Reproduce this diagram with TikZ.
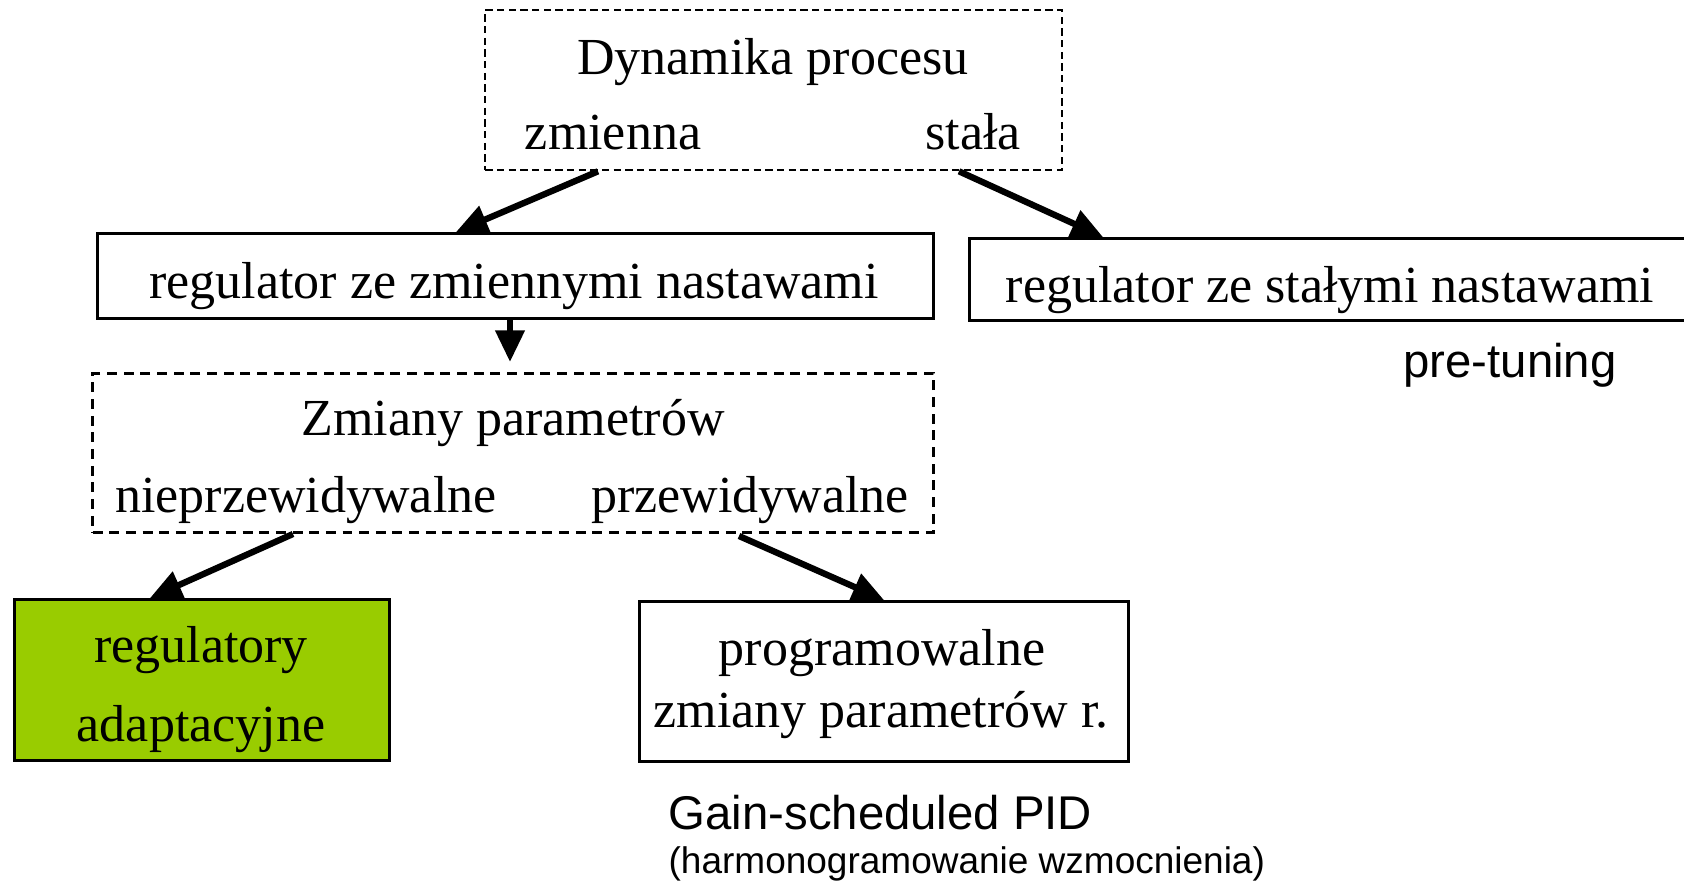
\documentclass[tikz,border=0pt]{standalone}
\usepackage{fontspec}
\setmainfont{Liberation Serif}
\setsansfont{Liberation Sans}
\usetikzlibrary{arrows.meta,calc}
\definecolor{grn}{HTML}{99CC00}
\tikzset{
  box/.style={draw, line width=1pt, inner sep=0pt, anchor=north west},
  dbox/.style={draw, line width=0.7pt, dash pattern=on 2.2pt off 1.3pt, inner sep=0pt, anchor=north west},
  lbl/.style={font=\fontsize{15.6}{18}\selectfont, inner sep=0pt, anchor=base},
  slbl/.style={font=\sffamily\fontsize{14.2}{17}\selectfont, inner sep=0pt, anchor=base},
  arr/.style={line width=1.9pt, -{Triangle[length=9.5pt,width=8.5pt]}},
}
\begin{document}
\begin{tikzpicture}[x=0.3pt,y=-0.3pt]
\useasboundingbox (0,0) rectangle (1684,884);
\clip (0,0) rectangle (1684,884);
% boxes
\node[dbox, minimum width=577*0.3pt, minimum height=160*0.3pt] (top) at (484,9) {};
\node[box, minimum width=836*0.3pt, minimum height=85*0.3pt] (ra) at (96,232) {};
\node[box, minimum width=760*0.3pt, minimum height=82*0.3pt] (rb) at (968,237) {};
\node[dbox, line width=0.9pt, dash pattern=on 3pt off 2pt, minimum width=841*0.3pt, minimum height=159*0.3pt] (zm) at (91,372) {};
\node[box, fill=grn, minimum width=375*0.3pt, minimum height=161*0.3pt] (ad) at (13,598) {};
\node[box, minimum width=489*0.3pt, minimum height=160*0.3pt] (pr) at (638,600) {};
% texts
\node[lbl] (t1) at (773,75) {Dynamika procesu};
\node[lbl] (t2) at (613,150) {zmienna};
\node[lbl] (t3) at (973,150) {stała};
\node[lbl] (t4) at (514,299) {regulator ze zmiennymi nastawami};
\node[lbl] (t5) at (1330,303) {regulator ze stałymi nastawami};
\node[slbl] (t6) at (1510,378) {pre-tuning};
\node[lbl] (t7) at (513,436) {Zmiany parametrów};
\node[lbl] (t8) at (306,513) {nieprzewidywalne};
\node[lbl] (t9) at (750,513) {przewidywalne};
\node[lbl] (t10) at (201,663) {regulatory};
\node[lbl] (t11) at (201,741) {adaptacyjne};
\node[lbl] (t12) at (882,666) {programowalne};
\node[lbl] (t13) at (881,728) {zmiany parametrów r.};
\node[slbl, anchor=base west] (t14) at (668,829) {Gain-scheduled PID};
\node[slbl, anchor=base west, font=\sffamily\fontsize{11.1}{13}\selectfont] (t15) at (668,873) {(harmonogramowanie wzmocnienia)};
% arrows
\draw[arr] ($(top.south west)+(114,0)$) -- ($(ra.north west)+(360,0)$);
\draw[arr] ($(top.south west)+(475,0)$) -- ($(rb.north west)+(135,0)$);
\draw[arr] ($(ra.south west)+(414,-3)$) -- ($(zm.north west)+(419,-10)$);
\draw[arr] ($(zm.south west)+(202,0)$) -- ($(ad.north west)+(137,0)$);
\draw[arr] ($(zm.south west)+(648,2)$) -- ($(pr.north west)+(246,0)$);
\end{tikzpicture}
\end{document}
